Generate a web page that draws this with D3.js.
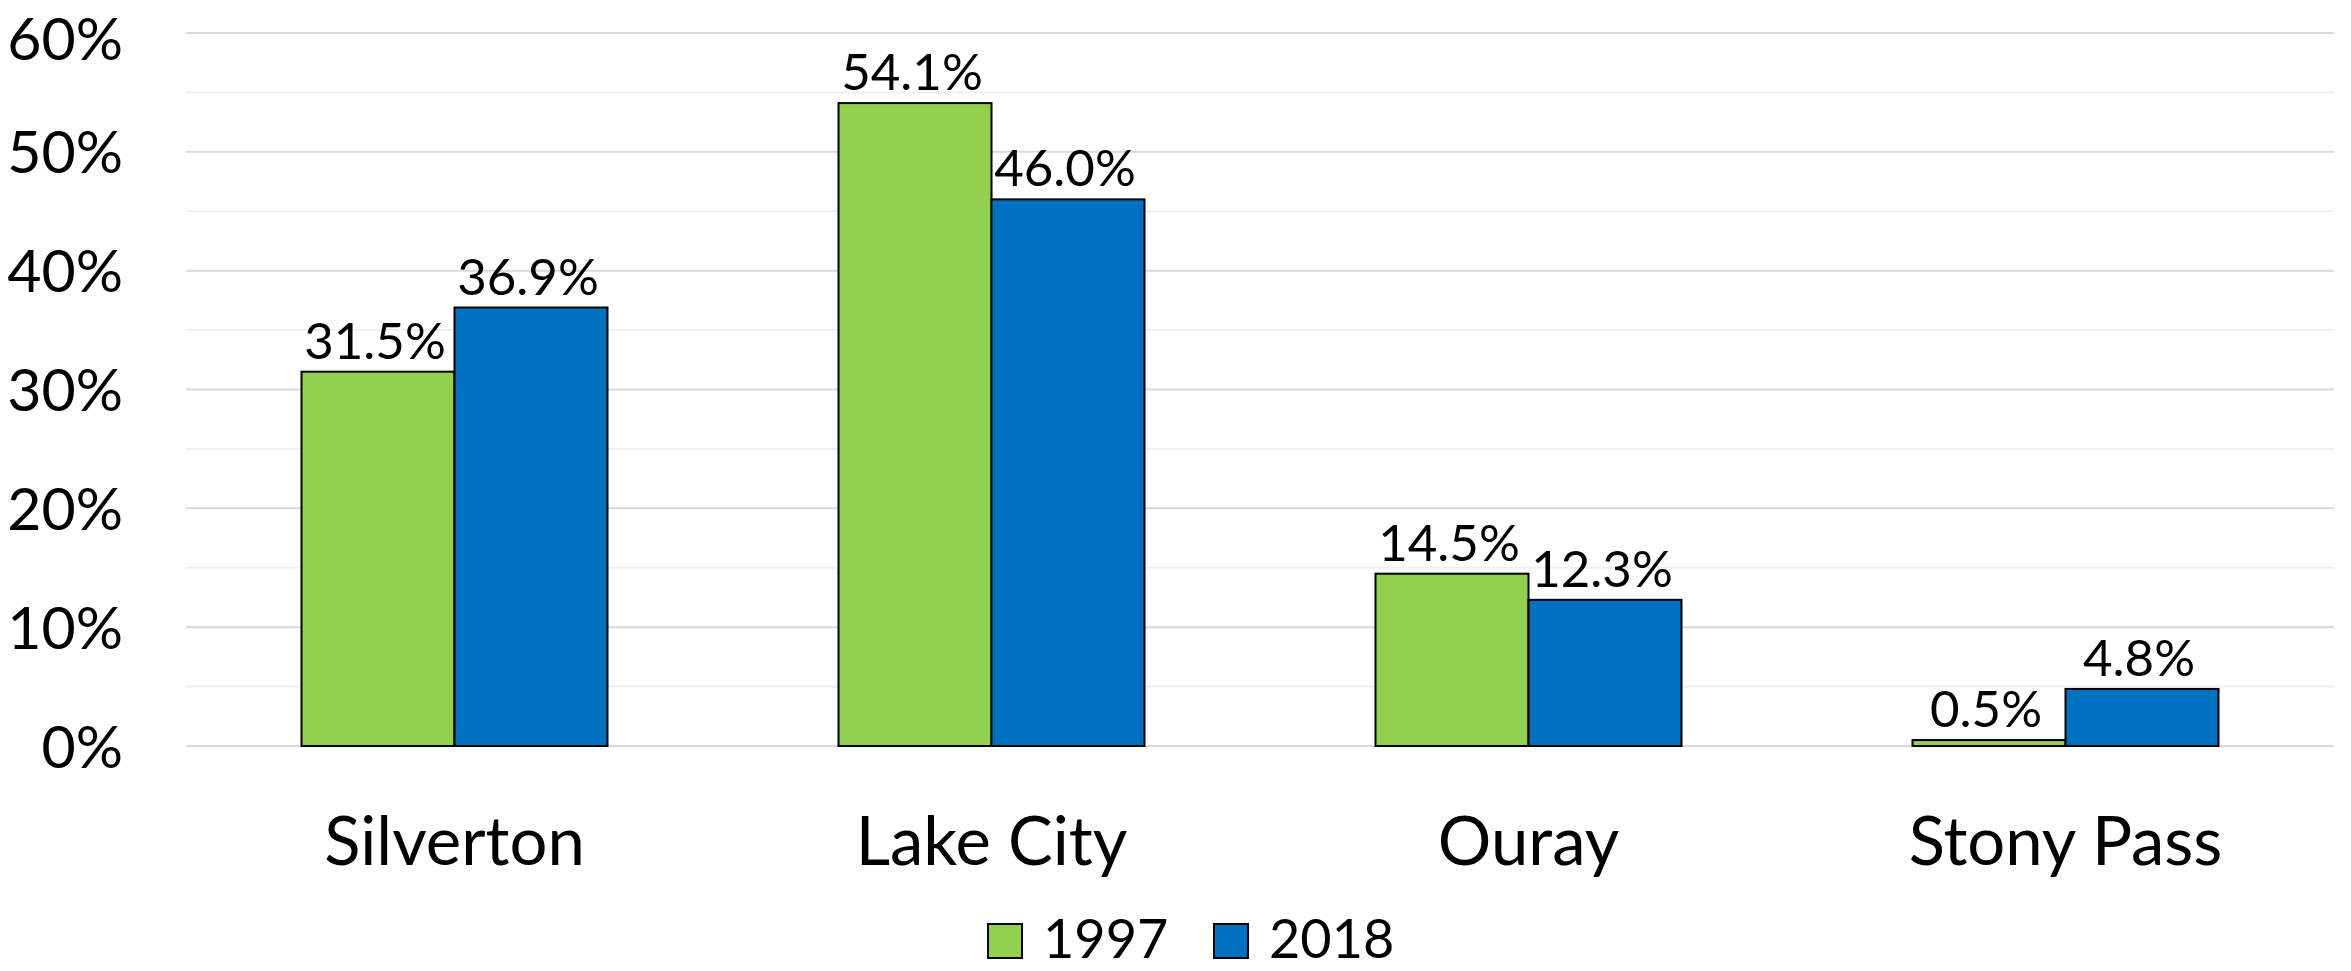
<!DOCTYPE html>
<html>
<head>
<meta charset="utf-8">
<script src="https://cdn.jsdelivr.net/npm/d3@7"></script>
<style>
    body { margin: 0; background: #fff; }
    text { font-family: Lato, "Open Sans", sans-serif; fill: #000; }
</style>
</head>
<body>
<div id="chart"></div>
<script>
// data
var categories = ["Silverton", "Lake City", "Ouray", "Stony Pass"];
var seriesNames = ["1997", "2018"];
var values1997 = [31.5, 54.1, 14.5, 0.5];
var values2018 = [36.9, 46.0, 12.3, 4.8];
var yTicks = [0, 10, 20, 30, 40, 50, 60];
var yMinorTicks = [5, 15, 25, 35, 45, 55];
var colors = ["#92D050", "#0070C0"];

// set the dimensions and margins of the graph
var totalWidth = 2351,
    totalHeight = 971;
var margin = {
        top: 33,
        right: 17,
        bottom: 225,
        left: 186
    },
    width = totalWidth - margin.left - margin.right,
    height = totalHeight - margin.top - margin.bottom;

var svg = d3.select("#chart")
    .append("svg")
    .attr("width", totalWidth)
    .attr("height", totalHeight)
    .append("g")
    .attr("transform", "translate(" + margin.left + "," + margin.top + ")");

// build rows from the arrays
var data = categories.map(function (c, i) {
    return {
        category: c,
        values: [values1997[i], values2018[i]]
    };
});

// scales
var x0 = d3.scaleBand()
    .domain(categories)
    .range([0, width])
    .padding(0);

var x1 = d3.scaleBand()
    .domain(seriesNames)
    .range([0, x0.bandwidth()])
    .paddingInner(0)
    .paddingOuter(0.755);

var y = d3.scaleLinear()
    .domain([0, 60])
    .range([height, 0]);

// minor gridlines
svg.selectAll("minorgrid")
    .data(yMinorTicks)
    .enter()
    .append("line")
    .attr("x1", 0)
    .attr("x2", width)
    .attr("y1", function (d) { return y(d); })
    .attr("y2", function (d) { return y(d); })
    .attr("stroke", "#f0f0f0")
    .attr("stroke-width", 2);

// major gridlines
svg.selectAll("majorgrid")
    .data(yTicks)
    .enter()
    .append("line")
    .attr("x1", 0)
    .attr("x2", width)
    .attr("y1", function (d) { return y(d); })
    .attr("y2", function (d) { return y(d); })
    .attr("stroke", "#d9d9d9")
    .attr("stroke-width", 2);

// Y axis labels (top one nudged down a little so it stays inside the page)
var yAxis = svg.append("g")
    .attr("transform", "translate(-63,0)")
    .call(d3.axisLeft(y)
        .tickValues(yTicks)
        .tickSize(0)
        .tickPadding(0)
        .tickFormat(function (d) { return d + "%"; }));
yAxis.select(".domain").remove();
yAxis.selectAll("text")
    .attr("dy", null)
    .attr("y", function (d) { return d === 60 ? 26 : 21; })
    .style("font-size", "59px")
    .style("font-family", "Lato");

// bars
var groups = svg.selectAll("groups")
    .data(data)
    .enter()
    .append("g")
    .attr("transform", function (d) {
        return "translate(" + x0(d.category) + ",0)";
    });

groups.selectAll("rect")
    .data(function (d) {
        return d.values.map(function (v, i) {
            return { name: seriesNames[i], value: v, idx: i };
        });
    })
    .enter()
    .append("rect")
    .attr("x", function (d) { return x1(d.name); })
    .attr("y", function (d) { return y(d.value); })
    .attr("width", x1.bandwidth())
    .attr("height", function (d) { return y(0) - y(d.value); })
    .attr("fill", function (d) { return colors[d.idx]; })
    .attr("stroke", "#000")
    .attr("stroke-width", 2);

// value labels
groups.selectAll("vlabel")
    .data(function (d) {
        return d.values.map(function (v, i) {
            return { name: seriesNames[i], value: v };
        });
    })
    .enter()
    .append("text")
    .attr("x", function (d) { return x1(d.name) + x1.bandwidth() / 2 - 3; })
    .attr("y", function (d) { return y(d.value) - 13; })
    .attr("text-anchor", "middle")
    .style("font-size", "51px")
    .text(function (d) { return d.value.toFixed(1) + "%"; });

// X axis labels
var xAxis = svg.append("g")
    .attr("transform", "translate(0," + height + ")")
    .call(d3.axisBottom(x0).tickSize(0).tickPadding(0));
xAxis.select(".domain").remove();
xAxis.selectAll("text")
    .attr("dy", null)
    .attr("y", 119)
    .style("font-size", "67px")
    .style("font-family", "Lato");

// legend
var legendX = [988 - margin.left, 1214 - margin.left];
var legend = svg.selectAll("legend")
    .data(seriesNames)
    .enter()
    .append("g")
    .attr("transform", function (d, i) {
        return "translate(" + legendX[i] + "," + (958 - margin.top) + ")";
    });
legend.append("rect")
    .attr("x", 0)
    .attr("y", -34)
    .attr("width", 34)
    .attr("height", 34)
    .attr("fill", function (d, i) { return colors[i]; })
    .attr("stroke", "#000")
    .attr("stroke-width", 2);
legend.append("text")
    .attr("x", 55)
    .attr("y", 0)
    .style("font-size", "54px")
    .text(function (d) { return d; });
</script>
</body>
</html>
